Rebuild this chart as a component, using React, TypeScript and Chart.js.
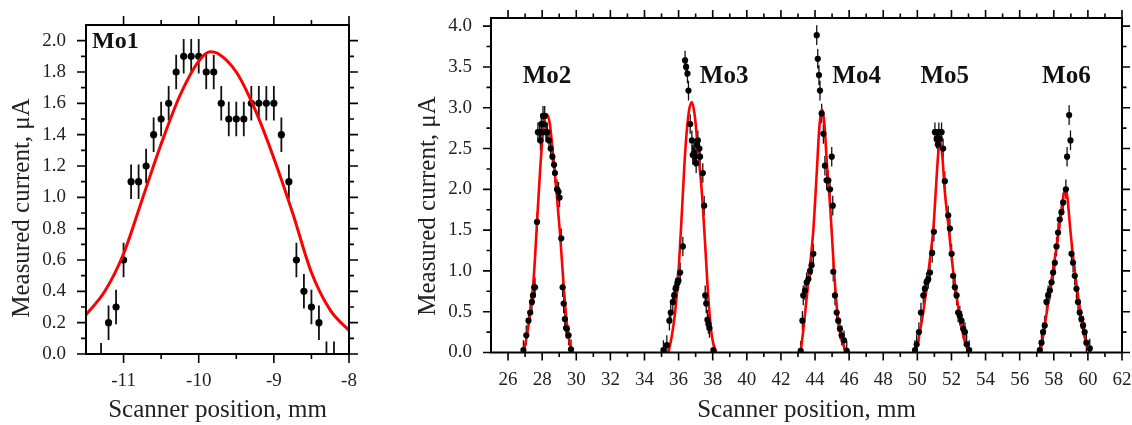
import React, { useEffect, useRef } from 'react';
import { Chart, registerables } from 'chart.js';

Chart.register(...registerables);

const FONT = '"Liberation Serif", "Times New Roman", serif';

// ---------------- Left panel (Mo1) ----------------
const mo1Pos = [-11.3, -11.2, -11.1, -11.0, -10.9, -10.8, -10.7, -10.6, -10.5, -10.4, -10.3, -10.2, -10.1, -10.0, -9.9, -9.8, -9.7, -9.6, -9.5, -9.4, -9.3, -9.2, -9.1, -9.0, -8.9, -8.8, -8.7, -8.6, -8.5, -8.4, -8.3, -8.2];
const mo1Current = [-0.04, 0.2, 0.3, 0.6, 1.1, 1.1, 1.2, 1.4, 1.5, 1.6, 1.8, 1.9, 1.9, 1.9, 1.8, 1.8, 1.6, 1.5, 1.5, 1.5, 1.6, 1.6, 1.6, 1.6, 1.4, 1.1, 0.6, 0.4, 0.3, 0.2, -0.03, -0.03];
const mo1Error = 0.11;
const mo1FitPos = [-11.5, -11.25, -11.0, -10.75, -10.5, -10.25, -10.0, -9.85, -9.75, -9.5, -9.25, -9.0, -8.75, -8.5, -8.25, -8.0];
const mo1FitCurrent = [0.25, 0.4, 0.64, 0.99, 1.34, 1.65, 1.87, 1.93, 1.92, 1.8, 1.56, 1.25, 0.9, 0.52, 0.28, 0.15];

const leftXTicks = [-11, -10, -9, -8];
const leftXMinor = [-10.5, -9.5, -8.5];
const leftYTicks = [0, 0.2, 0.4, 0.6, 0.8, 1.0, 1.2, 1.4, 1.6, 1.8, 2.0];
const leftYMinor = [0.1, 0.3, 0.5, 0.7, 0.9, 1.1, 1.3, 1.5, 1.7, 1.9];

// ---------------- Right panel (Mo2..Mo6) ----------------
const mo2Pos = [26.9, 27.07, 27.2, 27.3, 27.4, 27.46, 27.54, 27.58, 27.7, 27.75, 27.85, 27.9, 27.95, 28.0, 28.05, 28.1, 28.15, 28.22, 28.3, 28.4, 28.5, 28.6, 28.7, 28.75, 28.87, 28.96, 29.02, 29.12, 29.2, 29.26, 29.33, 29.4, 29.45, 29.55, 29.69];
const mo2Current = [0.03, 0.21, 0.39, 0.49, 0.62, 0.7, 0.8, 0.8, 1.6, 2.7, 2.7, 2.6, 2.8, 2.7, 2.9, 2.8, 2.9, 2.7, 2.7, 2.6, 2.5, 2.4, 2.3, 2.2, 2.0, 1.97, 1.9, 1.4, 0.8, 0.6, 0.41, 0.3, 0.29, 0.21, 0.04];

const mo3Pos = [35.11, 35.31, 35.46, 35.54, 35.66, 35.74, 35.82, 35.86, 35.93, 35.99, 36.09, 36.25, 36.38, 36.44, 36.52, 36.58, 36.68, 36.78, 36.83, 36.9, 36.97, 37.03, 37.08, 37.13, 37.22, 37.26, 37.42, 37.5, 37.56, 37.62, 37.69, 37.75, 37.81, 38.04];
const mo3Current = [0.03, 0.09, 0.39, 0.49, 0.62, 0.7, 0.78, 0.8, 0.85, 0.88, 0.98, 1.3, 3.58, 3.5, 3.42, 3.21, 2.8, 2.6, 2.42, 2.45, 2.4, 2.32, 2.55, 2.6, 2.5, 2.4, 2.2, 1.8, 0.7, 0.6, 0.4, 0.35, 0.3, 0.03];

const mo4Pos = [43.16, 43.26, 43.31, 43.41, 43.51, 43.61, 43.71, 43.8, 43.9, 44.1, 44.16, 44.23, 44.29, 44.39, 44.49, 44.58, 44.68, 44.78, 44.88, 44.98, 45.04, 45.07, 45.17, 45.27, 45.36, 45.46, 45.56, 45.7, 45.86];
const mo4Current = [0.02, 0.39, 0.7, 0.76, 0.86, 0.9, 1.0, 1.07, 1.21, 3.89, 3.6, 3.4, 3.21, 2.93, 2.68, 2.29, 2.11, 2.11, 2.0, 2.4, 1.8, 0.99, 0.7, 0.49, 0.39, 0.29, 0.21, 0.15, 0.02];

const mo5Pos = [49.86, 49.96, 50.09, 50.21, 50.35, 50.44, 50.54, 50.64, 50.74, 50.87, 50.97, 51.03, 51.13, 51.2, 51.26, 51.32, 51.42, 51.51, 51.61, 51.81, 51.91, 52.01, 52.1, 52.2, 52.3, 52.39, 52.49, 52.59, 52.69, 52.79, 52.89, 53.04];
const mo5Current = [0.03, 0.1, 0.25, 0.49, 0.7, 0.78, 0.86, 0.9, 0.98, 1.22, 1.48, 2.7, 2.62, 2.55, 2.7, 2.62, 2.7, 2.5, 2.1, 1.68, 1.52, 1.21, 0.94, 0.8, 0.7, 0.49, 0.45, 0.39, 0.29, 0.25, 0.1, 0.03];

const mo6Pos = [57.18, 57.28, 57.37, 57.47, 57.57, 57.67, 57.77, 57.87, 57.96, 58.06, 58.16, 58.25, 58.35, 58.45, 58.55, 58.71, 58.78, 58.9, 58.98, 59.04, 59.13, 59.23, 59.33, 59.42, 59.52, 59.62, 59.72, 59.81, 59.91, 60.11];
const mo6Current = [0.03, 0.12, 0.25, 0.33, 0.62, 0.7, 0.76, 0.86, 0.98, 1.1, 1.3, 1.47, 1.63, 1.72, 1.84, 2.0, 2.4, 2.91, 2.6, 1.21, 1.1, 0.94, 0.78, 0.62, 0.49, 0.41, 0.33, 0.25, 0.12, 0.05];

const peakError = 0.12;

const mo2FitPos = [26.9, 27.1, 27.3, 27.5, 27.7, 27.9, 28.1, 28.28, 28.45, 28.65, 28.85, 29.05, 29.25, 29.45, 29.65, 29.8];
const mo2FitCurrent = [0.0, 0.2, 0.5, 0.9, 1.6, 2.3, 2.8, 2.92, 2.8, 2.4, 1.95, 1.45, 0.85, 0.35, 0.08, 0.0];
const mo3FitPos = [35.4, 35.6, 35.8, 36.0, 36.2, 36.4, 36.6, 36.78, 36.95, 37.15, 37.35, 37.55, 37.75, 37.95, 38.2];
const mo3FitCurrent = [0.0, 0.2, 0.5, 1.0, 1.75, 2.5, 2.95, 3.07, 2.9, 2.45, 2.0, 1.35, 0.65, 0.2, 0.0];
const mo4FitPos = [43.15, 43.3, 43.5, 43.7, 43.9, 44.1, 44.25, 44.4, 44.55, 44.7, 44.9, 45.1, 45.3, 45.5, 45.85];
const mo4FitCurrent = [0.0, 0.25, 0.65, 1.05, 1.5, 2.2, 2.75, 2.98, 2.8, 2.3, 1.75, 1.05, 0.5, 0.2, 0.0];
const mo5FitPos = [49.9, 50.1, 50.35, 50.6, 50.8, 50.95, 51.1, 51.25, 51.35, 51.45, 51.6, 51.85, 52.1, 52.4, 52.7, 53.0];
const mo5FitCurrent = [0.0, 0.2, 0.5, 0.9, 1.25, 1.55, 2.05, 2.5, 2.58, 2.45, 2.0, 1.5, 1.0, 0.55, 0.2, 0.0];
const mo6FitPos = [57.2, 57.45, 57.7, 57.95, 58.2, 58.45, 58.6, 58.7, 58.8, 58.95, 59.2, 59.45, 59.7, 59.95, 60.15];
const mo6FitCurrent = [0.0, 0.3, 0.65, 1.0, 1.35, 1.75, 1.95, 2.0, 1.9, 1.55, 1.05, 0.65, 0.3, 0.08, 0.0];

const rightXTicks = [26, 28, 30, 32, 34, 36, 38, 40, 42, 44, 46, 48, 50, 52, 54, 56, 58, 60, 62];
const rightXMinor = [27, 29, 31, 33, 35, 37, 39, 41, 43, 45, 47, 49, 51, 53, 55, 57, 59, 61];
const rightYTicks = [0, 0.5, 1.0, 1.5, 2.0, 2.5, 3.0, 3.5, 4.0];
const rightYMinor = [0.25, 0.75, 1.25, 1.75, 2.25, 2.75, 3.25, 3.75];

const leftLabels = [{ text: 'Mo1', x: -11.42, y: 1.99 }];
const rightLabels = [
  { text: 'Mo2', x: 28.28, y: 3.38 },
  { text: 'Mo3', x: 38.67, y: 3.38 },
  { text: 'Mo4', x: 46.44, y: 3.38 },
  { text: 'Mo5', x: 51.61, y: 3.38 },
  { text: 'Mo6', x: 58.74, y: 3.38 },
];

const xTitle = 'Scanner position, mm';
const yTitle = 'Measured current, \u03bcA';

function zip(xs: number[], ys: number[]) {
  return xs.map((x, i) => ({ x, y: ys[i] }));
}

type Deco = {
  xMajor: number[]; xMinor: number[]; yMajor: number[]; yMinor: number[];
  majorLen: number; minorLen: number;
  yTitleX: number; yTitleY: number; xTitleY: number;
  labels: { text: string; x: number; y: number }[];
  labelAlign: CanvasTextAlign; labelSize: number;
};

function decoPlugin(d: Deco) {
  return {
    id: 'deco',
    afterDraw(chart: any) {
      const { ctx, chartArea: a, scales } = chart;
      const xs = scales.x;
      const ys = scales.y;
      ctx.save();
      ctx.strokeStyle = '#000';
      ctx.lineWidth = 1.6;
      ctx.beginPath();
      const seg = (x1: number, y1: number, x2: number, y2: number) => { ctx.moveTo(x1, y1); ctx.lineTo(x2, y2); };
      const xt = (vals: number[], len: number) => vals.forEach((v) => {
        const p = xs.getPixelForValue(v);
        seg(p, a.bottom, p, a.bottom + len);
        seg(p, a.top, p, a.top - len);
      });
      const yt = (vals: number[], len: number) => vals.forEach((v) => {
        const p = ys.getPixelForValue(v);
        seg(a.left, p, a.left - len, p);
        seg(a.right, p, a.right + len, p);
      });
      xt(d.xMajor, d.majorLen); xt(d.xMinor, d.minorLen);
      yt(d.yMajor, d.majorLen); yt(d.yMinor, d.minorLen);
      ctx.stroke();
      ctx.lineWidth = 2;
      ctx.strokeRect(a.left, a.top, a.right - a.left, a.bottom - a.top);

      ctx.fillStyle = '#222';
      ctx.font = `25px ${FONT}`;
      ctx.textAlign = 'center';
      ctx.textBaseline = 'alphabetic';
      ctx.fillText(xTitle, (a.left + a.right) / 2, d.xTitleY);
      ctx.save();
      ctx.translate(d.yTitleX, d.yTitleY);
      ctx.rotate(-Math.PI / 2);
      ctx.fillText(yTitle, 0, 0);
      ctx.restore();

      ctx.fillStyle = '#111';
      ctx.font = `bold ${d.labelSize}px ${FONT}`;
      ctx.textBaseline = 'middle';
      ctx.textAlign = d.labelAlign;
      d.labels.forEach((l) => ctx.fillText(l.text, xs.getPixelForValue(l.x), ys.getPixelForValue(l.y)));
      ctx.restore();
    },
  };
}

const errorBarPlugin = {
  id: 'errorBars',
  beforeDatasetsDraw(chart: any) {
    const { ctx, chartArea: a, scales } = chart;
    const xs = scales.x;
    const ys = scales.y;
    ctx.save();
    ctx.beginPath();
    ctx.rect(a.left, a.top, a.right - a.left, a.bottom - a.top);
    ctx.clip();
    ctx.strokeStyle = '#111';
    chart.data.datasets.forEach((ds: any) => {
      if (!ds.errorBar) return;
      ctx.lineWidth = ds.errorWidth || 1.5;
      ctx.beginPath();
      ds.data.forEach((p: any) => {
        const px = xs.getPixelForValue(p.x);
        ctx.moveTo(px, ys.getPixelForValue(p.y - ds.errorBar));
        ctx.lineTo(px, ys.getPixelForValue(p.y + ds.errorBar));
      });
      ctx.stroke();
    });
    ctx.restore();
  },
};

function scalesFor(xMin: number, xMax: number, yMax: number, xTicks: number[], yTicks: number[], yWidth: number, xHeight: number, yPad: number) {
  const tickFont = { family: FONT, size: 19 };
  return {
    x: {
      type: 'linear', min: xMin, max: xMax,
      grid: { display: false, drawTicks: false },
      border: { display: false },
      afterBuildTicks: (s: any) => { s.ticks = xTicks.map((v) => ({ value: v })); },
      afterFit: (s: any) => { s.height = xHeight; s.paddingLeft = 0; s.paddingRight = 0; },
      ticks: { font: tickFont, color: '#222', padding: 16, maxRotation: 0, autoSkip: false, callback: (v: any) => String(v) },
    },
    y: {
      type: 'linear', min: 0, max: yMax,
      grid: { display: false, drawTicks: false },
      border: { display: false },
      afterBuildTicks: (s: any) => { s.ticks = yTicks.map((v) => ({ value: v })); },
      afterFit: (s: any) => { s.width = yWidth; s.paddingTop = 0; s.paddingBottom = 0; },
      ticks: { font: tickFont, color: '#222', padding: yPad, autoSkip: false, callback: (v: any) => Number(v).toFixed(1) },
    },
  };
}

function leftConfig(): any {
  return {
    type: 'scatter',
    data: {
      datasets: [
        {
          data: zip(mo1FitPos, mo1FitCurrent), showLine: true, borderColor: '#ff0000', borderWidth: 3,
          pointRadius: 0, cubicInterpolationMode: 'monotone', order: 0,
        },
        {
          data: zip(mo1Pos, mo1Current), showLine: false, pointRadius: 3.6, pointBorderWidth: 0,
          backgroundColor: '#000', borderColor: '#000', errorBar: mo1Error, errorWidth: 1.8, order: 1,
        },
      ],
    },
    options: {
      animation: false, responsive: false, maintainAspectRatio: false,
      layout: { padding: { top: 25, right: 26, left: 0, bottom: 0 } },
      plugins: { legend: { display: false }, tooltip: { enabled: false } },
      scales: scalesFor(-11.5, -8, 2.1, leftXTicks, leftYTicks, 86, 71, 20),
    },
    plugins: [errorBarPlugin, decoPlugin({
      xMajor: leftXTicks, xMinor: leftXMinor, yMajor: leftYTicks, yMinor: leftYMinor,
      majorLen: 9, minorLen: 5, yTitleX: 29, yTitleY: 208, xTitleY: 417,
      labels: leftLabels, labelAlign: 'left', labelSize: 24,
    })],
  };
}

function rightConfig(): any {
  const fits = [
    zip(mo2FitPos, mo2FitCurrent), zip(mo3FitPos, mo3FitCurrent), zip(mo4FitPos, mo4FitCurrent),
    zip(mo5FitPos, mo5FitCurrent), zip(mo6FitPos, mo6FitCurrent),
  ];
  const pts = [
    zip(mo2Pos, mo2Current), zip(mo3Pos, mo3Current), zip(mo4Pos, mo4Current),
    zip(mo5Pos, mo5Current), zip(mo6Pos, mo6Current),
  ];
  const datasets: any[] = [];
  fits.forEach((f) => datasets.push({
    data: f, showLine: true, borderColor: '#ff0000', borderWidth: 2.6, pointRadius: 0,
    cubicInterpolationMode: 'monotone', order: 1,
  }));
  pts.forEach((p) => datasets.push({
    data: p, showLine: false, pointRadius: 3.1, pointBorderWidth: 0,
    backgroundColor: '#000', borderColor: '#000', errorBar: peakError, errorWidth: 1.3, order: 0,
  }));
  return {
    type: 'scatter',
    data: { datasets },
    options: {
      animation: false, responsive: false, maintainAspectRatio: false,
      layout: { padding: { top: 18, right: 10, left: 0, bottom: 0 } },
      plugins: { legend: { display: false }, tooltip: { enabled: false } },
      scales: scalesFor(25, 62, 4.1, rightXTicks, rightYTicks, 106, 72.5, 19),
    },
    plugins: [errorBarPlugin, decoPlugin({
      xMajor: rightXTicks, xMinor: rightXMinor, yMajor: rightYTicks, yMinor: rightYMinor,
      majorLen: 8, minorLen: 4.5, yTitleX: 50, yTitleY: 206, xTitleY: 417,
      labels: rightLabels, labelAlign: 'center', labelSize: 25,
    })],
  };
}

export default function App() {
  const leftRef = useRef<HTMLCanvasElement>(null);
  const rightRef = useRef<HTMLCanvasElement>(null);
  useEffect(() => {
    const c1 = new Chart(leftRef.current as HTMLCanvasElement, leftConfig());
    const c2 = new Chart(rightRef.current as HTMLCanvasElement, rightConfig());
    return () => { c1.destroy(); c2.destroy(); };
  }, []);
  return (
    <div style={{ position: 'fixed', left: 0, top: 0, width: 1132, height: 425, background: '#fff', overflow: 'hidden' }}>
      <canvas ref={leftRef} width={375} height={425} style={{ position: 'absolute', left: 0, top: 0, width: 375, height: 425 }} />
      <canvas ref={rightRef} width={747} height={425} style={{ position: 'absolute', left: 385, top: 0, width: 747, height: 425 }} />
    </div>
  );
}
